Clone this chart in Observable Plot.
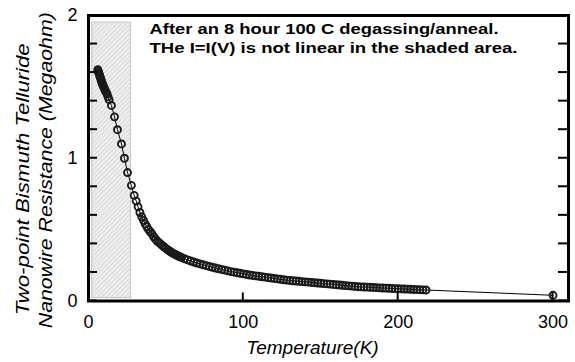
<!DOCTYPE html>
<html>
<head>
<meta charset="utf-8">
<script src="https://cdn.jsdelivr.net/npm/d3@7"></script>
<script src="https://cdn.jsdelivr.net/npm/@observablehq/plot@0.6"></script>
<style>
  html, body { margin: 0; padding: 0; background: #fff; }
  #chart { width: 575px; height: 362px; }
</style>
</head>
<body>
<div id="chart"></div>
<script>
// Temperature (K)
const temperature = [
  6.0, 6.3, 6.6, 6.9, 7.2, 7.5, 7.8, 8.1, 8.4, 8.7, 9.0, 9.4, 9.8, 10.2, 10.6, 11.0, 11.5, 12.0, 12.6, 13.3,
  14.8, 16.8, 18.7, 21.3, 23.2, 25.2, 27.7, 29.5, 30.8, 32.0, 33.2, 34.4, 35.5, 36.6, 37.7, 38.8, 39.9,
  41.0, 42.1, 43.2, 44.3, 45.4, 46.5, 47.6, 48.7, 49.8, 51, 52, 53, 54, 55, 56, 57, 58, 59, 60,
  62, 64, 66, 68, 70, 72, 74, 76, 78, 80, 82, 84, 86, 88, 90, 92, 94, 96, 98, 100,
  102, 104, 106, 108, 110, 112, 114, 116, 118, 120, 122, 124, 126, 128, 130, 132, 134, 136, 138, 140,
  142, 144, 146, 148, 150, 152, 154, 156, 158, 160, 162, 164, 166, 168, 170, 172, 174, 176, 178, 180,
  182, 184, 186, 188, 190, 192, 194, 196, 198, 200, 202, 204, 206, 208, 210, 212, 214, 216, 218, 300
];
// Two-point resistance (Megaohm)
const resistance = [
  1.62, 1.61, 1.60, 1.59, 1.58, 1.57, 1.56, 1.55, 1.54, 1.53, 1.52, 1.51, 1.50, 1.49, 1.48, 1.47, 1.46, 1.45, 1.43, 1.41,
  1.37, 1.29, 1.20, 1.10, 1.00, 0.90, 0.81, 0.74, 0.70, 0.66, 0.62, 0.59, 0.565, 0.54, 0.52, 0.50, 0.485,
  0.47, 0.45, 0.435, 0.42, 0.41, 0.40, 0.39, 0.38, 0.37, 0.36, 0.352, 0.345, 0.338, 0.332, 0.326, 0.32, 0.315, 0.31, 0.305,
  0.296, 0.288, 0.28, 0.273, 0.266, 0.26, 0.254, 0.248, 0.242, 0.236, 0.231, 0.226, 0.221, 0.216, 0.211, 0.206, 0.202, 0.198, 0.194, 0.19,
  0.186, 0.182, 0.179, 0.176, 0.173, 0.17, 0.167, 0.164, 0.161, 0.158, 0.155, 0.152, 0.149, 0.146, 0.144, 0.142, 0.14, 0.138, 0.136, 0.134,
  0.132, 0.13, 0.128, 0.126, 0.124, 0.122, 0.12, 0.118, 0.116, 0.114, 0.112, 0.11, 0.108, 0.106, 0.104, 0.102, 0.1, 0.099, 0.098, 0.097,
  0.096, 0.095, 0.094, 0.092, 0.091, 0.09, 0.089, 0.088, 0.087, 0.086, 0.085, 0.084, 0.083, 0.082, 0.081, 0.08, 0.079, 0.078, 0.077, 0.04
];
// Shaded (non-linear I-V) region
const shadedT = [2.4, 27.5];
const shadedR = [0.02, 1.95];

const xDomain = [0, 310];
const yDomain = [0, 2];
const xTickValues = [0, 100, 200, 300];
const yTickValues = [0, 0.2, 0.4, 0.6, 0.8, 1.0, 1.2, 1.4, 1.6, 1.8, 2.0];
const yLabelValues = [0, 1, 2];
const yTitleLines = ["Two-point Bismuth Telluride", "Nanowire Resistance (Megaohm)"];
const xTitle = "Temperature(K)";
const noteLines = ["After an 8 hour 100 C degassing/anneal.", "THe I=I(V) is not linear in the shaded area."];

const data = temperature.map((t, i) => ({T: t, R: resistance[i]}));
const shaded = [{x1: shadedT[0], x2: shadedT[1], y1: shadedR[0], y2: shadedR[1]}];

const W = 575, H = 362, ML = 88, MR = 7, MT = 15, MB = 61.5;
const font = "Liberation Sans, Arial, sans-serif";

const chart = Plot.plot({
  width: W,
  height: H,
  marginLeft: ML,
  marginRight: MR,
  marginTop: MT,
  marginBottom: MB,
  style: {fontFamily: font, background: "#fff", color: "#000"},
  x: {domain: xDomain, axis: null},
  y: {domain: yDomain, axis: null},
  marks: [
    Plot.rect(shaded, {x1: "x1", x2: "x2", y1: "y1", y2: "y2", fill: "#eeeeee"}),
    Plot.rect(shaded, {x1: "x1", x2: "x2", y1: "y1", y2: "y2", fill: "url(#hatch)", stroke: "#c4c4c4", strokeWidth: 1}),
    Plot.line(data, {x: "T", y: "R", stroke: "#000", strokeWidth: 1}),
    Plot.dot(data, {x: "T", y: "R", r: 3.5, stroke: "#1a1a1a", strokeWidth: 1.9, fill: "none"}),
    Plot.frame({stroke: "#000", strokeWidth: 3}),
    // tick labels
    Plot.axisY({ticks: yLabelValues, anchor: "left", tickSize: 0, tickPadding: 11, fontSize: 18, tickFormat: d3.format("d"), label: null}),
    Plot.axisX({ticks: xTickValues, anchor: "bottom", tickSize: 0, tickPadding: 14, fontSize: 18, tickFormat: d3.format("d"), label: null}),
    Plot.text([xTitle], {frameAnchor: "bottom", dy: 53, dx: -16, fontSize: 19, fontStyle: "italic", lineAnchor: "bottom"}),
    Plot.text([yTitleLines[0]], {frameAnchor: "left", rotate: -90, dx: -66, dy: 21, textAnchor: "middle", fontSize: 19, fontStyle: "italic"}),
    Plot.text([yTitleLines[1]], {frameAnchor: "left", rotate: -90, dx: -43, dy: 12, textAnchor: "middle", fontSize: 19, fontStyle: "italic"}),
    Plot.text([noteLines[0]], {frameAnchor: "top-left", dx: 61, dy: 9, lineAnchor: "top", textAnchor: "start", fontSize: 14, fontWeight: "bold"}),
    Plot.text([noteLines[1]], {frameAnchor: "top-left", dx: 61, dy: 28, lineAnchor: "top", textAnchor: "start", fontSize: 14, fontWeight: "bold"})
  ]
});

// hatch pattern for the shaded area
const svg = d3.select(chart);
const pat = svg.insert("defs", ":first-child").append("pattern")
  .attr("id", "hatch").attr("width", 3.2).attr("height", 3.2)
  .attr("patternUnits", "userSpaceOnUse").attr("patternTransform", "rotate(45)");
pat.append("line").attr("x1", 0).attr("y1", 0).attr("x2", 0).attr("y2", 3.2)
  .attr("stroke", "#c4c4c4").attr("stroke-width", 1);

// inward ticks on left, right and bottom, placed with the plot's own scales
const sx = chart.scale("x"), sy = chart.scale("y");
const xL = sx.apply(xDomain[0]), xR = sx.apply(xDomain[1]), yB = sy.apply(yDomain[0]);
const tickG = svg.append("g").attr("stroke", "#000").attr("fill", "none");
yTickValues.forEach(v => {
  const y = sy.apply(v);
  tickG.append("line").attr("x1", xL).attr("x2", xL + 9).attr("y1", y).attr("y2", y).attr("stroke-width", 2);
  tickG.append("line").attr("x1", xR - 10).attr("x2", xR).attr("y1", y).attr("y2", y).attr("stroke-width", 2);
});
xTickValues.slice(1).forEach(v => {
  const x = sx.apply(v);
  tickG.append("line").attr("x1", x).attr("x2", x).attr("y1", yB).attr("y2", yB - 8).attr("stroke-width", 2);
});

// the reference sets these texts wide: stretch them to their measured lengths
const stretched = new Map([
  [noteLines[0], 349], [noteLines[1], 368],
  [yTitleLines[0], 272], [yTitleLines[1], 316]
]);
chart.querySelectorAll("text").forEach(t => {
  const w = stretched.get(t.textContent);
  if (w) {
    t.setAttribute("textLength", w);
    t.setAttribute("lengthAdjust", "spacingAndGlyphs");
  }
});

document.getElementById("chart").appendChild(chart);
</script>
</body>
</html>
